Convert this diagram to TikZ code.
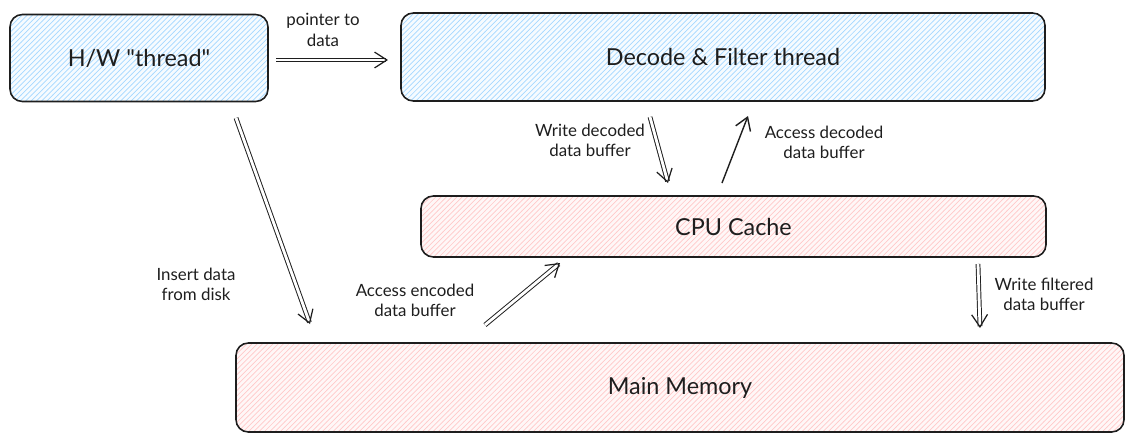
\documentclass[tikz,border=0pt]{standalone}
\usepackage{fontspec}
\setmainfont{Lato}[Ligatures=TeXOff]
\usetikzlibrary{patterns,arrows.meta,calc}
\definecolor{hblue}{HTML}{A5D8FF}
\definecolor{hred}{HTML}{FFC9C9}
\definecolor{ink}{HTML}{1E1E1E}
\begin{document}
\begin{tikzpicture}[x=0.02cm,y=-0.02cm,
  box/.style={draw=ink,line width=0.9pt,rounded corners=7pt,inner sep=0pt,
    font=\fontsize{13.3}{16}\selectfont,text=ink},
  bluebox/.style={box,preaction={fill=hblue!10},pattern=north east lines,pattern color=hblue},
  redbox/.style={box,preaction={fill=hred!15},pattern=north east lines,pattern color=hred},
  lbl/.style={align=center,font=\fontsize{9.6}{11.5}\selectfont,text=ink,inner sep=1pt},
  arr/.style={draw=ink,line width=0.55pt,double=white,double distance=1.6pt,
    -{Straight Barb[length=7pt,width=9pt,line width=0.7pt]}},
  sarr/.style={draw=ink,line width=0.8pt,-{Straight Barb[length=7pt,width=9pt]}}]
\useasboundingbox (0,0) rectangle (1134,443);
\node[bluebox,minimum width=258*0.02cm,minimum height=87*0.02cm] (hw) at (139,58) {H/W "thread"};
\node[bluebox,minimum width=644*0.02cm,minimum height=88*0.02cm] (df) at (723,57) {Decode \& Filter thread};
\node[redbox,minimum width=625*0.02cm,minimum height=61*0.02cm] (cpu) at (733.5,226.5) {CPU Cache};
\node[redbox,minimum width=888*0.02cm,minimum height=89*0.02cm] (mm) at (680,387.5) {Main Memory};
% arrow end points
\coordinate (pA) at (276,60);   \coordinate (pB) at (388,60);
\coordinate (iA) at (236,118);  \coordinate (iB) at (310,324);
\coordinate (wdA) at (650,117); \coordinate (wdB) at (668,183);
\coordinate (adA) at (722,183); \coordinate (adB) at (748,116);
\coordinate (aeA) at (485,325); \coordinate (aeB) at (560,263);
\coordinate (wfA) at (978,264); \coordinate (wfB) at (980,328);
\draw[arr] (pA) -- (pB);
\draw[arr] (iA) -- (iB);
\draw[arr] (wdA) -- (wdB);
\draw[sarr] (adA) -- (adB);
\draw[arr] (aeA) -- (aeB);
\draw[arr] (wfA) -- (wfB);
\node[lbl] (lp) at (323,30) {pointer to\\data};
\node[lbl] (li) at (196,284) {Insert data\\from disk};
\node[lbl] (lwd) at (590,140) {Write decoded\\data buffer};
\node[lbl] (lad) at (824,142) {Access decoded\\data buffer};
\node[lbl] (lae) at (415,300) {Access encoded\\data buffer};
\node[lbl] (lwf) at (1044,294) {Write filtered\\data buffer};
\end{tikzpicture}
\end{document}
